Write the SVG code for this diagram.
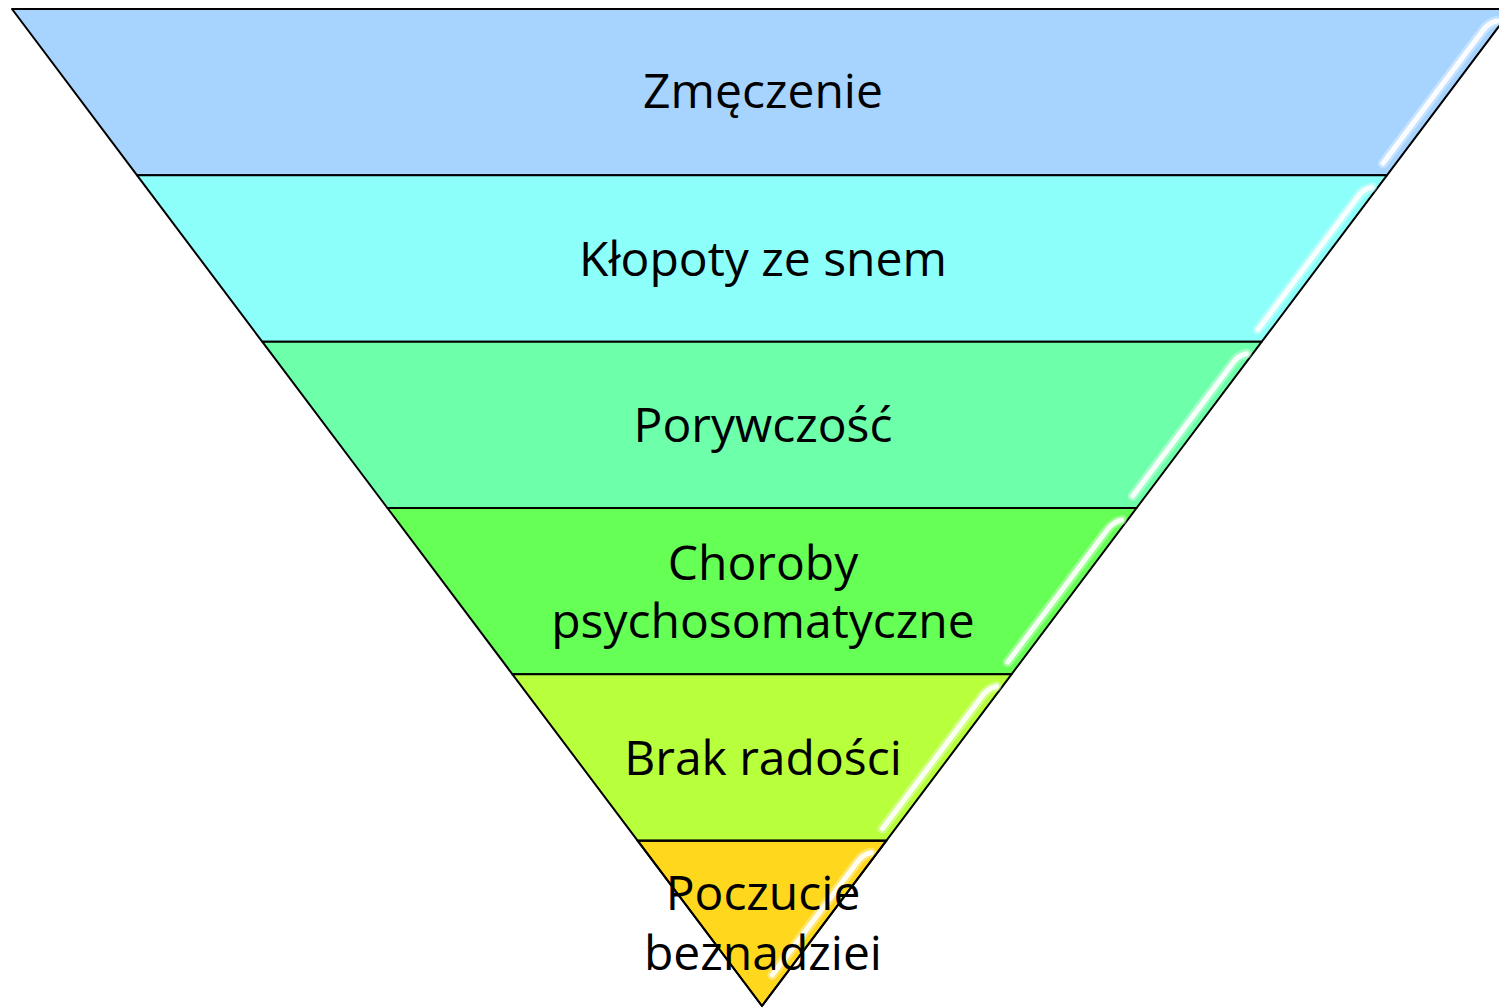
<svg xmlns="http://www.w3.org/2000/svg" width="1499" height="1008" viewBox="0 0 1499 1008">
<defs>
<style>
.band{stroke:#000;stroke-width:2;stroke-linejoin:round}
.hl{fill:none;stroke:#fff;stroke-linecap:round}
.hl1{stroke-width:10;stroke-opacity:0.35}
.hl2{stroke-width:5;stroke-opacity:0.9}
.lbl{font-family:"Open Sans","Noto Sans",sans-serif;font-size:48px;fill:#000;text-anchor:middle}
</style>
</defs>
<rect width="1499" height="1008" fill="#fff"/>
<g id="band1">
<polygon class="band" fill="#A7D3FF" points="12,9 1512,9 1386.9,175.3 137.1,175.3"/>
<path class="hl hl1" d="M1497,21 Q1488,23 1482.5,31 L1383,163.3"/>
<path class="hl hl2" d="M1497,21 Q1488,23 1482.5,31 L1383,163.3"/>
<text class="lbl" x="763" y="108">Zmęczenie</text>
</g>
<g id="band2">
<polygon class="band" fill="#8CFFFA" points="137.1,175.3 1386.9,175.3 1261.8,341.7 262.2,341.7"/>
<path class="hl hl1" d="M1371.9,187.3 Q1363,189 1357.4,197.3 L1257.8,329.7"/>
<path class="hl hl2" d="M1371.9,187.3 Q1363,189 1357.4,197.3 L1257.8,329.7"/>
<text class="lbl" x="763" y="276">Kłopoty ze snem</text>
</g>
<g id="band3">
<polygon class="band" fill="#6EFFAA" points="262.2,341.7 1261.8,341.7 1136.6,508 387.4,508"/>
<path class="hl hl1" d="M1246.7,353.7 Q1238,355 1232.2,363.7 L1132.7,496"/>
<path class="hl hl2" d="M1246.7,353.7 Q1238,355 1232.2,363.7 L1132.7,496"/>
<text class="lbl" x="763" y="442">Porywczość</text>
</g>
<g id="band4">
<polygon class="band" fill="#66FF55" points="387.4,508 1136.6,508 1011.5,674.3 512.5,674.3"/>
<path class="hl hl1" d="M1121.6,520 Q1113,522 1107.1,530 L1007.6,662.3"/>
<path class="hl hl2" d="M1121.6,520 Q1113,522 1107.1,530 L1007.6,662.3"/>
<text class="lbl" x="763" y="580">Choroby</text>
<text class="lbl" x="763" y="638">psychosomatyczne</text>
</g>
<g id="band5">
<polygon class="band" fill="#B8FF3C" points="512.5,674.3 1011.5,674.3 886.4,840.7 637.6,840.7"/>
<path class="hl hl1" d="M996.5,686.3 Q988,688 982,696.3 L882.4,828.7"/>
<path class="hl hl2" d="M996.5,686.3 Q988,688 982,696.3 L882.4,828.7"/>
<text class="lbl" x="763" y="775">Brak radości</text>
</g>
<g id="band6">
<polygon class="band" fill="#FFD71C" points="637.6,840.7 886.4,840.7 762,1006"/>
<path class="hl hl1" d="M871.3,852.7 Q863,854 856.8,862.7 L772.3,975"/>
<path class="hl hl2" d="M871.3,852.7 Q863,854 856.8,862.7 L772.3,975"/>
<text class="lbl" x="763" y="910">Poczucie</text>
<text class="lbl" x="763" y="970">beznadziei</text>
<polygon fill="none" stroke="#000" stroke-width="2" stroke-linejoin="round" points="637.6,840.7 886.4,840.7 762,1006"/>
</g>
</svg>
